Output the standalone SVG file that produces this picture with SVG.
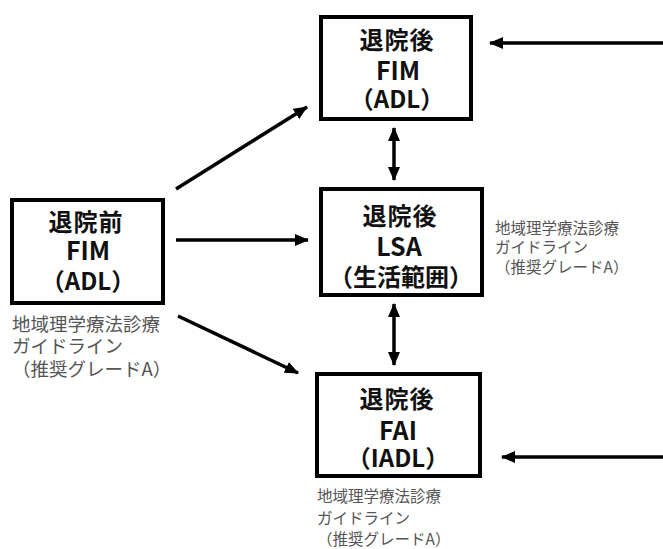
<svg xmlns="http://www.w3.org/2000/svg" width="663" height="549" viewBox="0 0 663 549">
<style>
.box{fill:#fff;stroke:#000;stroke-width:4}
.t{font-family:"Noto Sans CJK JP","Noto Sans",sans-serif;font-weight:bold;font-size:25px;fill:#111;text-anchor:middle}
.j{font-size:24px;letter-spacing:1px}
.p{font-size:24px}
.n{font-family:"Noto Sans CJK JP","Noto Sans",sans-serif;font-size:15.5px;fill:#555}
.nl{font-size:18.5px}
.c{stroke:#000;stroke-width:3.5;fill:none}
</style>
<defs>
<marker id="ah" markerUnits="userSpaceOnUse" markerWidth="14" markerHeight="12" refX="13" refY="6" orient="auto-start-reverse">
<path d="M0,0 L14,6 L0,12 Z" fill="#000"/>
</marker>
</defs>
<g id="connectors">
<line class="c" x1="176" y1="189" x2="307" y2="107" marker-end="url(#ah)"/>
<line class="c" x1="176" y1="240" x2="308" y2="240" marker-end="url(#ah)"/>
<line class="c" x1="178" y1="316" x2="298" y2="373" marker-end="url(#ah)"/>
<line class="c" x1="394" y1="128" x2="394" y2="180" marker-start="url(#ah)" marker-end="url(#ah)"/>
<line class="c" x1="394" y1="304" x2="394" y2="365" marker-start="url(#ah)" marker-end="url(#ah)"/>
<line class="c" x1="663" y1="43" x2="490" y2="43" marker-end="url(#ah)"/>
<line class="c" x1="663" y1="457" x2="502" y2="457" marker-end="url(#ah)"/>
</g>
<g id="pre">
<rect class="box" x="12" y="200" width="151" height="103"/>
<text class="t j" x="86" y="231">退院前</text>
<text class="t" x="88" y="260">FIM</text>
<text class="t p" x="88" y="290">（ADL）</text>
</g>
<g id="post-fim">
<rect class="box" x="321" y="17" width="150" height="102"/>
<text class="t j" x="397" y="49">退院後</text>
<text class="t" x="398" y="80">FIM</text>
<text class="t p" x="397" y="108">（ADL）</text>
</g>
<g id="post-lsa">
<rect class="box" x="321" y="189" width="161" height="106"/>
<text class="t j" x="400" y="225">退院後</text>
<text class="t" x="399" y="256">LSA</text>
<text class="t p" x="401" y="286">（生活範囲）</text>
</g>
<g id="post-fai">
<rect class="box" x="317" y="374" width="163" height="102"/>
<text class="t j" x="397" y="408">退院後</text>
<text class="t" x="398" y="440">FAI</text>
<text class="t p" x="398" y="467">（IADL）</text>
</g>
<g id="note-pre">
<text class="n nl" x="12" y="331">地域理学療法診療</text>
<text class="n nl" x="12" y="353">ガイドライン</text>
<text class="n nl" x="12" y="376">（推奨グレードA）</text>
</g>
<g id="note-lsa">
<text class="n" x="495" y="234">地域理学療法診療</text>
<text class="n" x="495" y="253">ガイドライン</text>
<text class="n" x="495" y="273">（推奨グレードA）</text>
</g>
<g id="note-fai">
<text class="n" x="317" y="502">地域理学療法診療</text>
<text class="n" x="317" y="524">ガイドライン</text>
<text class="n" x="317" y="545">（推奨グレードA）</text>
</g>
</svg>
